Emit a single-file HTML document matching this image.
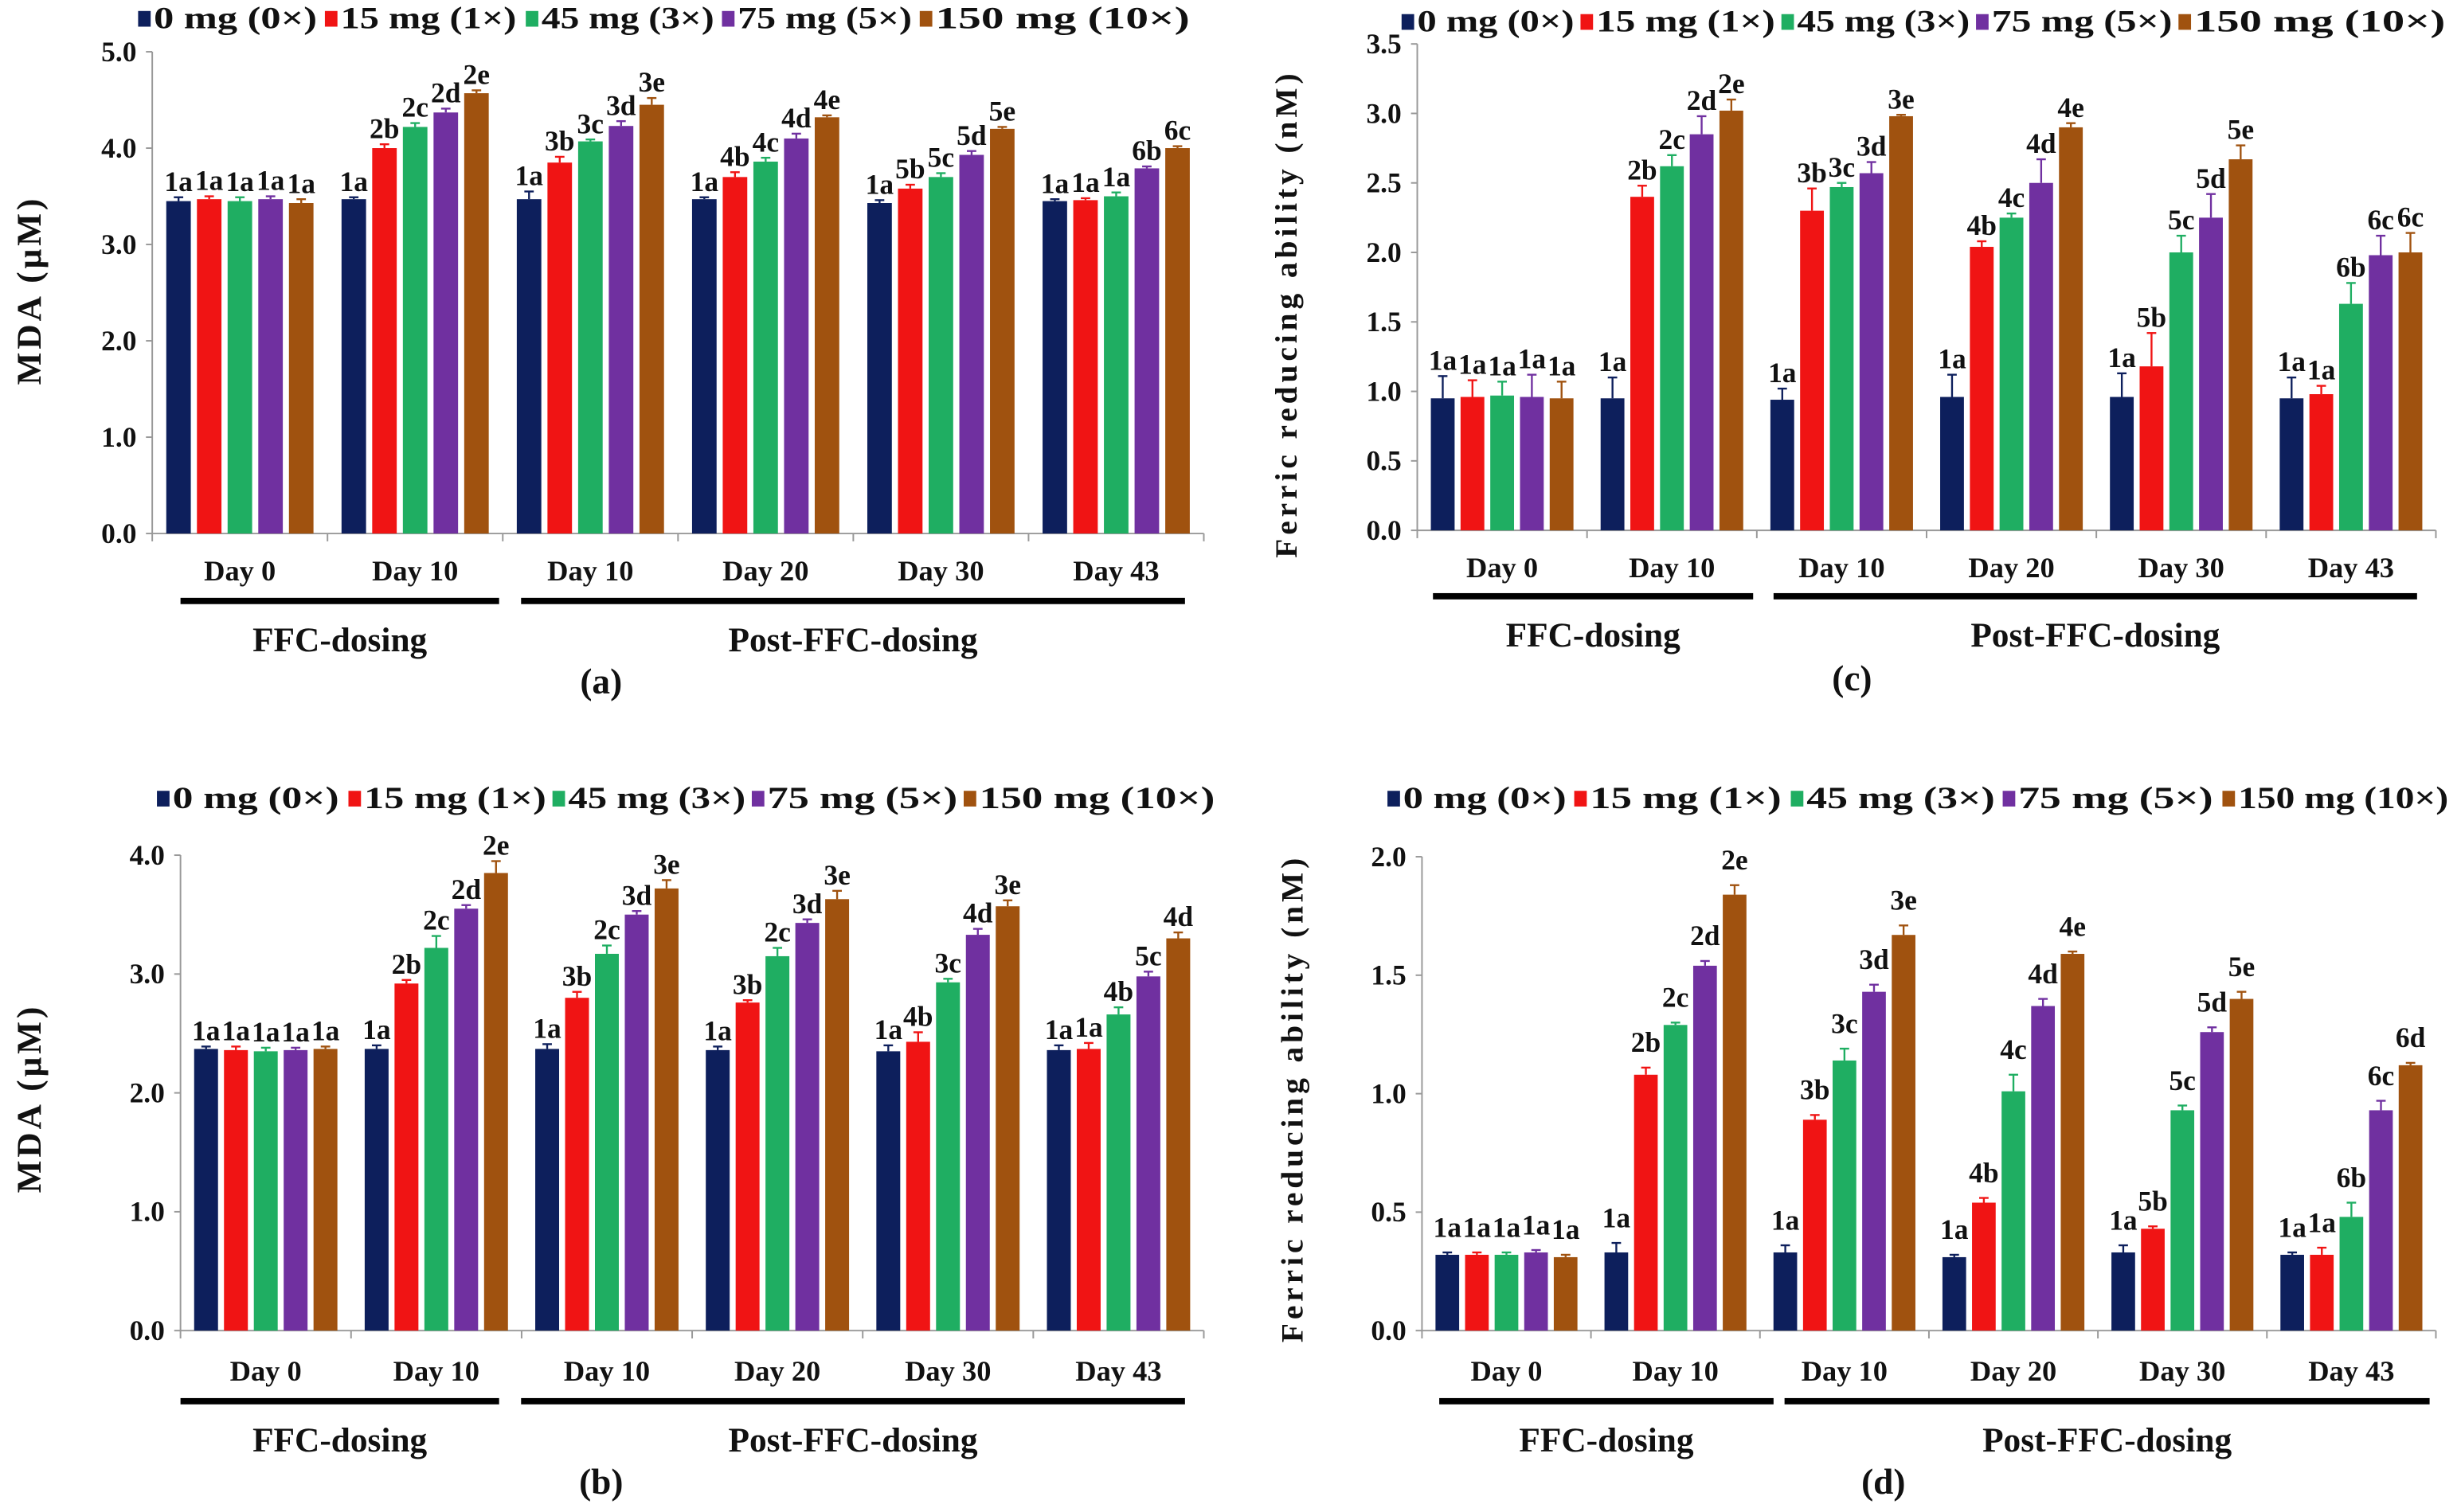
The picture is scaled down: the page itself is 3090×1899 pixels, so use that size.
<!DOCTYPE html>
<html><head><meta charset="utf-8"><style>
html,body{margin:0;padding:0;background:#fff;}
svg{display:block;}
text{font-family:"Liberation Serif",serif;font-weight:bold;fill:#111;}
</style></head><body>
<svg id="fig" width="3090" height="1899" viewBox="0 0 1568 963.6" preserveAspectRatio="none" xmlns="http://www.w3.org/2000/svg"></svg>
<script>
const seriesNames = ["0 mg (0×)","15 mg (1×)","45 mg (3×)","75 mg (5×)","150 mg (10×)"];
const seriesColors = ["#0d1f5c","#f01414","#1fae62","#7030a0","#a0520f"];
const categories = ["Day 0","Day 10","Day 10","Day 20","Day 30","Day 43"];

const valuesA = [[3.45,3.47,3.45,3.47,3.43],[3.47,4.00,4.22,4.37,4.57],[3.47,3.85,4.07,4.23,4.45],[3.47,3.70,3.86,4.10,4.32],[3.43,3.58,3.70,3.93,4.20],[3.45,3.46,3.50,3.79,4.00]];
const errorsA = [[0.04,0.03,0.04,0.03,0.04],[0.02,0.04,0.04,0.04,0.03],[0.08,0.06,0.02,0.05,0.07],[0.02,0.05,0.04,0.05,0.02],[0.03,0.04,0.04,0.04,0.02],[0.02,0.02,0.04,0.02,0.02]];
const lettersA = [["1a","1a","1a","1a","1a"],["1a","2b","2c","2d","2e"],["1a","3b","3c","3d","3e"],["1a","4b","4c","4d","4e"],["1a","5b","5c","5d","5e"],["1a","1a","1a","6b","6c"]];
const ticksA = ["0.0","1.0","2.0","3.0","4.0","5.0"];

const valuesC = [[0.95,0.96,0.97,0.96,0.95],[0.95,2.40,2.62,2.85,3.02],[0.94,2.30,2.47,2.57,2.98],[0.96,2.04,2.25,2.50,2.90],[0.96,1.18,2.00,2.25,2.67],[0.95,0.98,1.63,1.98,2.00]];
const errorsC = [[0.16,0.12,0.10,0.16,0.12],[0.15,0.08,0.08,0.13,0.08],[0.08,0.16,0.03,0.08,0.01],[0.16,0.04,0.03,0.17,0.03],[0.17,0.24,0.12,0.17,0.10],[0.15,0.06,0.15,0.14,0.14]];
const lettersC = [["1a","1a","1a","1a","1a"],["1a","2b","2c","2d","2e"],["1a","3b","3c","3d","3e"],["1a","4b","4c","4d","4e"],["1a","5b","5c","5d","5e"],["1a","1a","6b","6c","6c"]];
const ticksC = ["0.0","0.5","1.0","1.5","2.0","2.5","3.0","3.5"];

const valuesB = [[2.37,2.36,2.35,2.36,2.37],[2.37,2.92,3.22,3.55,3.85],[2.37,2.80,3.17,3.50,3.72],[2.36,2.76,3.15,3.43,3.63],[2.35,2.43,2.93,3.33,3.57],[2.36,2.37,2.66,2.98,3.30]];
const errorsB = [[0.02,0.03,0.03,0.02,0.02],[0.03,0.03,0.10,0.03,0.10],[0.04,0.05,0.07,0.03,0.07],[0.03,0.02,0.07,0.03,0.07],[0.05,0.08,0.03,0.05,0.05],[0.04,0.05,0.06,0.04,0.05]];
const lettersB = [["1a","1a","1a","1a","1a"],["1a","2b","2c","2d","2e"],["1a","3b","2c","3d","3e"],["1a","3b","2c","3d","3e"],["1a","4b","3c","4d","3e"],["1a","1a","4b","5c","4d"]];
const ticksB = ["0.0","1.0","2.0","3.0","4.0"];

const valuesD = [[0.32,0.32,0.32,0.33,0.31],[0.33,1.08,1.29,1.54,1.84],[0.33,0.89,1.14,1.43,1.67],[0.31,0.54,1.01,1.37,1.59],[0.33,0.43,0.93,1.26,1.40],[0.32,0.32,0.48,0.93,1.12]];
const errorsD = [[0.01,0.01,0.01,0.01,0.01],[0.04,0.03,0.01,0.02,0.04],[0.03,0.02,0.05,0.03,0.04],[0.01,0.02,0.07,0.03,0.01],[0.03,0.01,0.02,0.02,0.03],[0.01,0.03,0.06,0.04,0.01]];
const lettersD = [["1a","1a","1a","1a","1a"],["1a","2b","2c","2d","2e"],["1a","3b","3c","3d","3e"],["1a","4b","4c","4d","4e"],["1a","5b","5c","5d","5e"],["1a","1a","6b","6c","6d"]];
const ticksD = ["0.0","0.5","1.0","1.5","2.0"];

const svg = document.getElementById('fig');
const NS = 'http://www.w3.org/2000/svg';
function mk(tag, attrs, parent, txt){
  const e = document.createElementNS(NS, tag);
  for (const k in attrs) e.setAttribute(k, attrs[k]);
  if (txt !== undefined) e.textContent = txt;
  (parent||svg).appendChild(e); return e;
}

function panel(cfg){
  const g = mk('g', {});
  
  
  const x0 = cfg.x0, x1 = cfg.x1, yb = cfg.y0, yt = cfg.yTop, vmax = cfg.vmax;
  const ys = v => yb - (v / vmax) * (yb - yt);
  const gw = (x1 - x0) / categories.length;
  const lg = mk('g', {}, g);
  
  
  seriesNames.forEach((n, i) => {
    const lx = cfg.legXs[i];
    const r = mk('rect', {x: lx, y: cfg.legY - 6, width: 8, height: 10, fill: seriesColors[i]}, lg);
    
    
    const t = mk('text', {x: lx + 10, y: cfg.legY + 5, 'font-size': 20, textLength: cfg.legLen[i], lengthAdjust: 'spacingAndGlyphs'}, lg, n);
    
    
  });
  const ax = mk('line', {x1: x0, y1: yt, x2: x0, y2: yb, stroke: '#999', 'stroke-width': 1}, g);
  
  
  const bx = mk('line', {x1: x0, y1: yb, x2: x1, y2: yb, stroke: '#999', 'stroke-width': 1}, g);
  
  
  cfg.ticks.forEach((tl) => {
    const v = parseFloat(tl);
    const y = ys(v);
    mk('line', {x1: x0 - 4, y1: y, x2: x0, y2: y, stroke: '#999'}, g);
    const t = mk('text', {x: x0 - 10, y: y + 6, 'text-anchor': 'end', 'font-size': 18}, g, tl);
    
    
  });
  for (let k = 0; k <= categories.length; k++) {
    mk('line', {x1: x0 + k*gw, y1: yb, x2: x0 + k*gw, y2: yb + 5, stroke: '#999'}, g);
  }
  const yt2 = mk('text', {x: cfg.ytx, y: cfg.yty, 'text-anchor': 'middle', 'font-size': cfg.ytSize, 'letter-spacing': cfg.ytSpace, transform: `rotate(-90 ${cfg.ytx} ${cfg.yty})`}, g, cfg.yTitle);
  
  
  const bw = gw * 0.14, gap = gw * 0.035;
  const inner = 5*bw + 4*gap;
  categories.forEach((c, gi) => {
    const gx = x0 + gi*gw + (gw - inner)/2;
    cfg.values[gi].forEach((v, si) => {
      const bxp = gx + si*(bw + gap);
      const r = mk('rect', {x: bxp, y: ys(v), width: bw, height: yb - ys(v), fill: seriesColors[si]}, g);
      
      
      const e = cfg.errors[gi][si];
      const cx = bxp + bw/2, ye = ys(v + e);
      mk('line', {x1: cx, y1: ys(v), x2: cx, y2: ye, stroke: seriesColors[si], 'stroke-width': 1.2}, g);
      mk('line', {x1: cx - 3, y1: ye, x2: cx + 3, y2: ye, stroke: seriesColors[si], 'stroke-width': 1.2}, g);
      const lt = mk('text', {x: cx, y: ye - 4 - cfg.labOff, 'text-anchor': 'middle', 'font-size': 18}, g, cfg.letters[gi][si]);
      
      
    });
    const cl = mk('text', {x: x0 + gi*gw + gw/2, y: cfg.catY, 'text-anchor': 'middle', 'font-size': 18.5}, g, c);
    
    
  });
  cfg.groups.forEach((gr, i) => {
    const l = mk('rect', {x: gr[0], y: cfg.lineY - 2, width: gr[1] - gr[0], height: 4, fill: '#000'}, g);
    
    
    const t = mk('text', {x: (gr[0] + gr[1])/2, y: cfg.grpY, 'text-anchor': 'middle', 'font-size': 22}, g, i ? 'Post-FFC-dosing' : 'FFC-dosing');
    
    
  });
  const pl = mk('text', {x: cfg.capX, y: cfg.capY, 'text-anchor': 'middle', 'font-size': 23}, g, cfg.caption);
  
  
}

panel({id:'a', x0:97, x1:767, y0:340, yTop:33, vmax:5, values:valuesA, errors:errorsA, letters:lettersA, ticks:ticksA,
  legXs:[88,207,335,460,586], legY:13, legLen:[104,112,110,111,162], ytx:26, yty:185, ytSize:22, ytSpace:2, yTitle:'MDA (μM)', labOff:0,
  catY:370, lineY:383, groups:[[115,318],[332,755]], grpY:415, capX:383, capY:442, caption:'(a)'});
panel({id:'c', x0:903, x1:1552, y0:338, yTop:28, vmax:3.5, values:valuesC, errors:errorsC, letters:lettersC, ticks:ticksC,
  legXs:[893,1007,1135,1259,1388], legY:15, legLen:[100,114,110,115,160], ytx:826, yty:200, ytSize:20, ytSpace:2.5, yTitle:'Ferric reducing ability (nM)', labOff:0,
  catY:368, lineY:380, groups:[[913,1117],[1130,1540]], grpY:412, capX:1180, capY:440, caption:'(c)'});
panel({id:'b', x0:115, x1:767, y0:848, yTop:545, vmax:4, values:valuesB, errors:errorsB, letters:lettersB, ticks:ticksB,
  legXs:[100,222,352,479,614], legY:510, legLen:[106,116,113,121,150], ytx:26, yty:700, ytSize:22, ytSpace:2, yTitle:'MDA (μM)', labOff:0,
  catY:880, lineY:893, groups:[[115,318],[332,755]], grpY:925, capX:383, capY:952, caption:'(b)'});
panel({id:'d', x0:906, x1:1552, y0:848, yTop:546, vmax:2, values:valuesD, errors:errorsD, letters:lettersD, ticks:ticksD,
  legXs:[884,1003,1141,1276,1416], legY:510, legLen:[104,122,120,124,134], ytx:830, yty:700, ytSize:20, ytSpace:2.5, yTitle:'Ferric reducing ability (nM)', labOff:6,
  catY:880, lineY:893, groups:[[917,1130],[1137,1548]], grpY:925, capX:1200, capY:952, caption:'(d)'});
</script>
</body></html>
